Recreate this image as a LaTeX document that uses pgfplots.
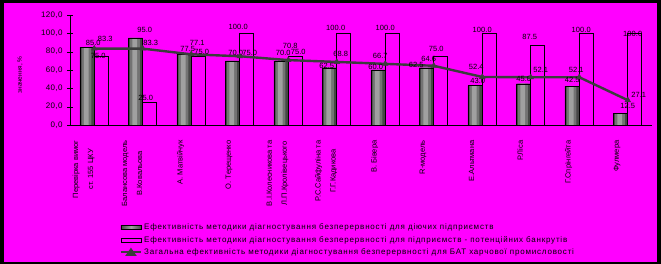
\documentclass[border=0pt]{standalone}
\usepackage{fontspec}
\setmainfont{Liberation Sans}
\newfontfamily\legfont[LetterSpace=10]{Liberation Sans}
\newfontfamily\tickfont[LetterSpace=4]{Liberation Sans}
\newfontfamily\labfont[LetterSpace=1]{Liberation Sans}
\usepackage{pgfplots}
\pgfplotsset{compat=1.18}
\usepackage{pgfplotstable}
\definecolor{bg}{RGB}{255,0,255}
\definecolor{linegray}{RGB}{60,60,60}
\definecolor{bardark}{RGB}{70,70,70}
\definecolor{barmid}{RGB}{115,115,115}
\definecolor{barlight}{RGB}{160,160,160}

\pgfplotstableread{
x y dx dy
0 85.0 -1 1.4
1 95.0 2 5
2 77.5 -3.5 2
3 70.0 -4 5
4 70.0 -5 5
5 62.5 -10 -1
6 60.0 -9.5 0
7 62.5 -17.5 0
8 43.0 -4.5 2
9 45.0 -7 1.5
10 42.5 -7 3
11 12.5 0 5
}\graytab

\pgfplotstableread{
x y dx dy
0 75.0 4 -3
1 25.0 3 1
2 75.0 10.5 1
3 100.0 -1.5 3.3
4 75.0 10 1
5 100.0 -1 3
6 100.0 0 3
7 75.0 2.5 4
8 100.0 0 0.6
9 87.5 -1 4.8
10 100.0 2 1
11 100.0 5 -3.4
}\whitetab

\pgfplotstableread{
x y dx dy
0 83.3 11 6.6
1 83.3 8 2.6
2 77.1 6 9
3 75.0 10 0
4 70.8 2 11
5 68.8 4 5
6 66.7 -5 4.6
7 64.6 -5 3.5
8 52.4 -6 7
9 52.1 10 4.5
10 52.1 -3 4.5
11 27.1 11 2
}\linetab

\begin{document}
\begin{tikzpicture}
\fill[black] (0,0) rectangle (661pt,264pt);
\fill[bg] (4pt,2pt) rectangle (657pt,261pt);
\node[rotate=90, font=\fontsize{6.5}{8}\selectfont, inner sep=0pt] at (20pt,189pt) {значення, \%};
\begin{axis}[
  at={(70pt,139pt)}, anchor=south west,
  scale only axis, width=582pt, height=110pt,
  xmin=-0.5, xmax=11.5, ymin=0, ymax=120,
  axis x line=bottom, axis y line=left, axis line style={-, black},
  clip=false,
  tick align=center,
  major tick length=6pt, minor tick length=6pt,
  ytick={0,20,...,120},
  yticklabel style={font=\tickfont\fontsize{8}{10}\selectfont, xshift=-1pt,
    /pgf/number format/fixed, /pgf/number format/fixed zerofill, /pgf/number format/precision=1,
    /pgf/number format/use comma, /pgf/number format/assume math mode=true},
  xtick={-0.22,0.78,1.78,2.78,3.78,4.78,5.78,6.78,7.78,8.78,9.78,10.78},
  xtick style={draw=none},
  minor xtick={-0.5,0.5,...,11.5},
  minor x tick style={black},
  y tick style={black},
  xticklabels={{Перевірка вимог\\ст. 155 ЦКУ},{Балансова модель\\В.Ковальова},{А. Матвійчук},{О. Терещенко},{В.І.Колесникова та\\Л.П.Кролівецького},{Р.С.Сайфуліна та\\Г.Г.Кадикова},{В. Бівера},{R-модель},{Е.Альтмана},{Р.Ліса},{Г.Спрінгейта},{Фулмера}},
  xticklabel style={yshift=-9pt, rotate=90, anchor=east, align=center, font=\fontsize{7.5}{15}\selectfont},
  bar width=0.29,
  nodes near coords style={font=\labfont\fontsize{7.5}{9}\selectfont, inner sep=0pt, anchor=south,
     /pgf/number format/fixed, /pgf/number format/fixed zerofill, /pgf/number format/precision=1,
     /pgf/number format/assume math mode=true},
  legend style={at={(axis description cs:0.08,-0.86)}, anchor=north west, draw=none, fill=none,
     font=\legfont\fontsize{8}{9.5}\selectfont, row sep=1pt, cells={anchor=west},
     /tikz/every even column/.append style={column sep=0pt}},
  legend cell align=left,
]
% cylinder-like shading of the grey bars, built from nested solid bars
\addplot[ybar, bar shift=-0.15, bar width=0.29, fill=bardark, draw=none, forget plot] table[x=x, y=y] {\graytab};
\addplot[ybar, bar shift=-0.16, bar width=0.20, fill=barmid, draw=none, forget plot] table[x=x, y=y] {\graytab};
\addplot[ybar, bar shift=-0.165, bar width=0.10, fill=barlight, draw=none, forget plot] table[x=x, y=y] {\graytab};
\addplot[ybar, bar shift=-0.15, bar width=0.29, draw=black, fill=none,
  legend image code/.code={\draw[draw=black, left color=bardark, right color=bardark, middle color=barlight] (0pt,-2pt) rectangle (20pt,2pt);},
  nodes near coords,
  visualization depends on={\thisrow{dx} \as \dx},
  visualization depends on={\thisrow{dy} \as \dy},
  every node near coord/.append style={xshift=\dx pt, yshift=\dy pt}]
  table[x=x, y=y] {\graytab};
\addlegendentry{Ефективність методики діагностування безперервності для діючих підприємств}
\addplot[ybar, bar shift=0.14, draw=black, fill=none,
  legend image code/.code={\draw[draw=black, fill=none] (0pt,-2pt) rectangle (20pt,2pt);},
  nodes near coords,
  visualization depends on={\thisrow{dx} \as \dx},
  visualization depends on={\thisrow{dy} \as \dy},
  every node near coord/.append style={xshift=\dx pt, yshift=\dy pt}]
  table[x=x, y=y] {\whitetab};
\addlegendentry{Ефективність методики діагностування безперервності для підприємств - потенційних банкрутів}
\addplot[linegray, line width=2.4pt, mark=triangle*, mark size=3.2pt, mark options={linegray, line width=0.5pt},
  legend image code/.code={\draw[linegray, line width=2.4pt] (0pt,0pt) -- (20pt,0pt); \fill[linegray] (6.5pt,-2.5pt) -- (13.5pt,-2.5pt) -- (10pt,2.5pt) -- cycle;},
  nodes near coords,
  visualization depends on={\thisrow{dx} \as \dx},
  visualization depends on={\thisrow{dy} \as \dy},
  every node near coord/.append style={black, xshift=\dx pt, yshift=\dy pt}]
  table[x=x, y=y] {\linetab};
\addlegendentry{Загальна ефективність методики діагностування безперервності для БАТ харчової промисловості}
\end{axis}
\pgfresetboundingbox
\useasboundingbox (0,0) rectangle (661pt,264pt);
\end{tikzpicture}
\end{document}
